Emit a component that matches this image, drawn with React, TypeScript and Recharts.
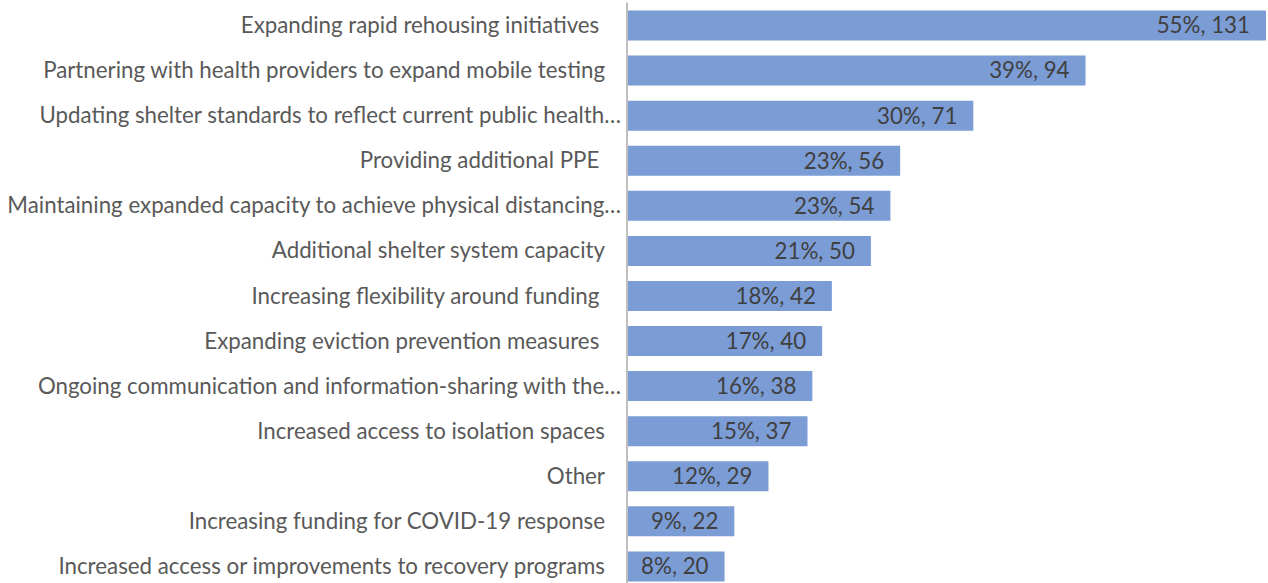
import { BarChart, Bar, XAxis, YAxis, LabelList } from "recharts";

const categories = [
  "Expanding rapid rehousing initiatives ",
  "Partnering with health providers to expand mobile testing",
  "Updating shelter standards to reflect current public health…",
  "Providing additional PPE ",
  "Maintaining expanded capacity to achieve physical distancing…",
  "Additional shelter system capacity",
  "Increasing flexibility around funding ",
  "Expanding eviction prevention measures ",
  "Ongoing communication and information-sharing with the…",
  "Increased access to isolation spaces",
  "Other",
  "Increasing funding for COVID-19 response",
  "Increased access or improvements to recovery programs",
];
const percents = [55, 39, 30, 23, 23, 21, 18, 17, 16, 15, 12, 9, 8];
const counts = [131, 94, 71, 56, 54, 50, 42, 40, 38, 37, 29, 22, 20];

const data = categories.map((name, i) => ({
  name,
  count: counts[i],
  label: `${percents[i]}%, ${counts[i]}`,
}));

const FONT = "Lato, 'Open Sans', sans-serif";

function CategoryTick(props: any) {
  const { x, y, payload } = props;
  const text: string = payload.value;
  // Excel pushes the truncated labels closer to the axis
  const shift = text.endsWith("…") ? 0 : -16;
  return (
    <text
      x={x + shift}
      y={y}
      dy="0.36em"
      textAnchor="end"
      fill="#595959"
      fontSize={22.3}
      fontFamily={FONT}
      style={{ whiteSpace: "pre" }}
    >
      {text}
    </text>
  );
}

export default function App() {
  return (
    <div style={{ position: "absolute", left: 0, top: 0, width: 1268, height: 583, overflow: "hidden", background: "#fff" }}>
      <BarChart
        width={1268}
        height={590}
        data={data}
        layout="vertical"
        margin={{ top: 2.5, right: 2, bottom: 1.5, left: 0 }}
      >
        <XAxis type="number" domain={[0, 131]} hide />
        <YAxis
          type="category"
          dataKey="name"
          width={627}
          tickSize={0}
          tickMargin={6}
          tick={<CategoryTick />}
          axisLine={{ stroke: "#bfbfbf", strokeWidth: 2 }}
          tickLine={false}
          interval={0}
        />
        <Bar dataKey="count" fill="#7b9cd5" barSize={30} isAnimationActive={false}>
          <LabelList
            dataKey="label"
            position="insideRight"
            offset={16}
            fill="#404040"
            fontSize={22.3}
            fontFamily={FONT}
          />
        </Bar>
      </BarChart>
    </div>
  );
}
